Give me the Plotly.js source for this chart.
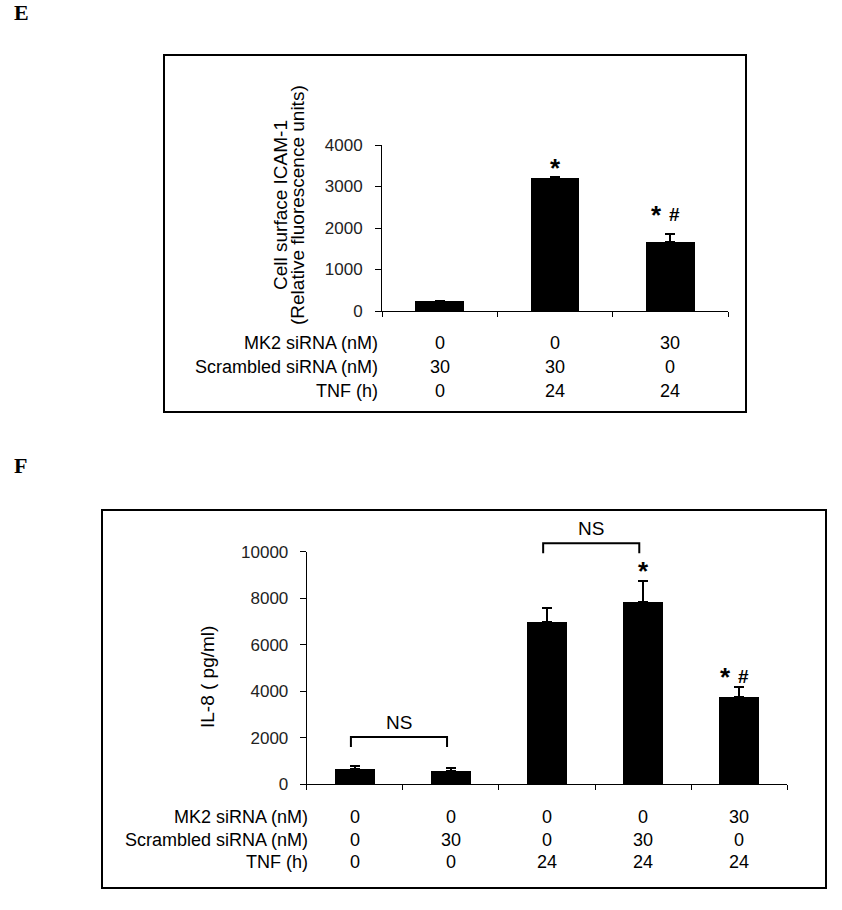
<!DOCTYPE html>
<html>
<head>
<meta charset="utf-8">
<script src="https://cdn.plot.ly/plotly-3.0.1.min.js"></script>
<style>
html,body{margin:0;padding:0;background:#fff;}
#chart{width:842px;height:910px;}
</style>
</head>
<body>
<div id="chart"></div>
<script>
// ---------- Data: panel E ----------
const eCategories = [0, 1, 2];
const eValues = [240, 3215, 1670];
const eErrors = [10, 20, 185];
const eMarks = ['', '*', '* #'];
const eYTicks = [0, 1000, 2000, 3000, 4000];
const eYTickText = ['0', '1000', '2000', '3000', '4000'];
const eRowLabels = ['MK2 siRNA (nM)', 'Scrambled siRNA (nM)', 'TNF (h)'];
const eRowMK2 = ['0', '0', '30'];
const eRowScr = ['30', '30', '0'];
const eRowTNF = ['0', '24', '24'];
const eTitle1 = 'Cell surface ICAM-1';
const eTitle2 = '(Relative fluorescence units)';

// ---------- Data: panel F ----------
const fCategories = [0, 1, 2, 3, 4];
const fValues = [645, 590, 6990, 7850, 3740];
const fErrors = [130, 100, 600, 900, 430];
const fMarks = ['', '', '', '*', '* #'];
const fYTicks = [0, 2000, 4000, 6000, 8000, 10000];
const fYTickText = ['0', '2000', '4000', '6000', '8000', '10000'];
const fRowLabels = ['MK2 siRNA (nM)', 'Scrambled siRNA (nM)', 'TNF (h)'];
const fRowMK2 = ['0', '0', '0', '0', '30'];
const fRowScr = ['0', '30', '0', '30', '0'];
const fRowTNF = ['0', '0', '24', '24', '24'];
const fTitle = 'IL-8 ( pg/ml)';
const bracketFrom = [0, 2];
const bracketTo = [1, 3];
const bracketLevel = [2030, 10360];
const bracketText = ['NS', 'NS'];

// ---------- Layout helpers (pixels -> paper) ----------
const W = 842, H = 910;
const px = v => v / W;
const py = v => 1 - v / H;
const SANS = 'Liberation Sans, Arial, sans-serif';
const SERIF = 'Liberation Serif, Times New Roman, serif';

const eXDomain = [px(382), px(728)];
const eYDomain = [py(311), py(145)];
const eYRange = [0, 4000];
const fXDomain = [px(306.7), px(787.3)];
const fYDomain = [py(784.3), py(551.7)];
const fYRange = [0, 10000];
// map a y2 data value to paper (for marks drawn above the axis range)
const fYPaper = v => fYDomain[0] + (v - fYRange[0]) / (fYRange[1] - fYRange[0]) * (fYDomain[1] - fYDomain[0]);

const errStyle = (arr) => ({
  type: 'data', array: arr, arrayminus: arr.map(() => 0), symmetric: false,
  color: '#000', thickness: 2, width: 5, visible: true
});

const traces = [
  {type: 'bar', x: eCategories, y: eValues, xaxis: 'x', yaxis: 'y', width: 0.42,
   marker: {color: '#000', line: {width: 0}}, error_y: errStyle(eErrors), hoverinfo: 'none'},
  {type: 'bar', x: fCategories, y: fValues, xaxis: 'x2', yaxis: 'y2', width: 0.42,
   marker: {color: '#000', line: {width: 0}}, error_y: errStyle(fErrors), hoverinfo: 'none'}
];

const annotations = [];
const shapes = [];

// Panel letters
annotations.push({xref: 'paper', yref: 'paper', x: px(12), y: py(13), xanchor: 'left', yanchor: 'middle',
  text: '<b>E</b>', showarrow: false, font: {family: SERIF, size: 22, color: '#000'}});
annotations.push({xref: 'paper', yref: 'paper', x: px(12), y: py(466), xanchor: 'left', yanchor: 'middle',
  text: '<b>F</b>', showarrow: false, font: {family: SERIF, size: 22, color: '#000'}});

// Frames
shapes.push({type: 'rect', xref: 'paper', yref: 'paper', x0: px(164), x1: px(746), y0: py(55), y1: py(412),
  line: {color: '#000', width: 2}, fillcolor: 'rgba(0,0,0,0)'});
shapes.push({type: 'rect', xref: 'paper', yref: 'paper', x0: px(102), x1: px(826), y0: py(510), y1: py(888),
  line: {color: '#000', width: 2}, fillcolor: 'rgba(0,0,0,0)'});

// Y titles
annotations.push({xref: 'paper', yref: 'paper', x: px(281), y: py(205), textangle: -90,
  xanchor: 'center', yanchor: 'middle', text: eTitle1, showarrow: false, font: {family: SANS, size: 19, color: '#000'}});
annotations.push({xref: 'paper', yref: 'paper', x: px(298), y: py(205), textangle: -90,
  xanchor: 'center', yanchor: 'middle', text: eTitle2, showarrow: false, font: {family: SANS, size: 19, color: '#000'}});
annotations.push({xref: 'paper', yref: 'paper', x: px(207), y: py(677), textangle: -90,
  xanchor: 'center', yanchor: 'middle', text: fTitle, showarrow: false, font: {family: SANS, size: 19, color: '#000'}});

// Category tables
function addTable(labels, rows, rowYs, labelRight, xref, cats) {
  rows.forEach((vals, r) => {
    annotations.push({xref: 'paper', yref: 'paper', x: px(labelRight), y: py(rowYs[r]), xanchor: 'right', yanchor: 'middle',
      text: labels[r], showarrow: false, font: {family: SANS, size: 18, color: '#000'}});
    vals.forEach((v, i) => {
      annotations.push({xref: xref, yref: 'paper', x: cats[i], y: py(rowYs[r]), xanchor: 'center', yanchor: 'middle',
        text: v, showarrow: false, font: {family: SANS, size: 18, color: '#000'}});
    });
  });
}
addTable(eRowLabels, [eRowMK2, eRowScr, eRowTNF], [343, 367, 391], 380, 'x', eCategories);
addTable(fRowLabels, [fRowMK2, fRowScr, fRowTNF], [817, 840, 862], 310, 'x2', fCategories);

// Significance marks: each symbol placed separately so '*' and '#' share one visual line
function addMarks(marks, cats, vals, errs, xref, yref, shifts) {
  marks.forEach((m, i) => {
    if (!m) return;
    const tokens = m.split(' ');
    tokens.forEach(tok => {
      const isStar = tok === '*';
      annotations.push({xref: xref, yref: yref, x: cats[i], y: vals[i] + errs[i], xanchor: 'center', yanchor: 'middle',
        xshift: tokens.length > 1 ? (isStar ? -14 : 4) : 0,
        yshift: shifts[i] + (isStar ? 0 : 1),
        text: '<b>' + tok + '</b>', showarrow: false,
        font: {family: SANS, size: isStar ? 26 : 19, color: '#000'}});
    });
  });
}
addMarks(eMarks, eCategories, eValues, eErrors, 'x', 'y', [0, 9, 19]);
addMarks(fMarks, fCategories, fValues, fErrors, 'x2', 'y2', [0, 0, 0, 10, 10]);

// NS brackets (drawn in paper space so the upper one may sit above the axis range)
bracketFrom.forEach((a, k) => {
  const b = bracketTo[k], lvP = fYPaper(bracketLevel[k]);
  const toPaperX = c => fXDomain[0] + (c + 0.5) / fCategories.length * (fXDomain[1] - fXDomain[0]);
  const xa = toPaperX(fCategories[a] - 0.04), xb = toPaperX(fCategories[b] - 0.04);
  const leg = 10 / H;
  shapes.push({type: 'path', xref: 'paper', yref: 'paper',
    path: `M ${xa} ${lvP - leg} L ${xa} ${lvP} L ${xb} ${lvP} L ${xb} ${lvP - leg}`,
    line: {color: '#000', width: 2}});
  annotations.push({xref: 'paper', yref: 'paper', x: (xa + xb) / 2, y: lvP, xanchor: 'center', yanchor: 'middle', yshift: 15,
    text: bracketText[k], showarrow: false, font: {family: SANS, size: 19, color: '#000'}});
});

const xCommon = {showgrid: false, zeroline: false, showline: true, linecolor: '#000', linewidth: 1,
  ticks: 'outside', ticklen: 5, tickwidth: 1, tickcolor: '#000', showticklabels: false, fixedrange: true};
const yCommon = {showgrid: false, zeroline: false, showline: true, linecolor: '#000', linewidth: 1,
  ticks: 'outside', ticklen: 6, tickwidth: 1, tickcolor: '#000', fixedrange: true,
  tickfont: {family: SANS, size: 17, color: '#222'}};

const layout = {
  width: W, height: H, margin: {l: 0, r: 0, t: 0, b: 0}, paper_bgcolor: '#fff', plot_bgcolor: 'rgba(0,0,0,0)',
  showlegend: false, bargap: 0,
  xaxis: Object.assign({}, xCommon, {domain: eXDomain, range: [-0.5, eCategories.length - 0.5],
    tickvals: eCategories.concat([eCategories.length]).map(v => v - 0.5), anchor: 'y'}),
  yaxis: Object.assign({}, yCommon, {domain: eYDomain, range: eYRange, tickvals: eYTicks, ticktext: eYTickText,
    ticklabelstandoff: 9, anchor: 'x'}),
  xaxis2: Object.assign({}, xCommon, {domain: fXDomain, range: [-0.5, fCategories.length - 0.5],
    tickvals: fCategories.concat([fCategories.length]).map(v => v - 0.5), anchor: 'y2'}),
  yaxis2: Object.assign({}, yCommon, {domain: fYDomain, range: fYRange, tickvals: fYTicks, ticktext: fYTickText,
    ticklabelstandoff: 8, anchor: 'x2'}),
  annotations: annotations,
  shapes: shapes
};

Plotly.newPlot('chart', traces, layout, {displayModeBar: false, staticPlot: true});
</script>
</body>
</html>
